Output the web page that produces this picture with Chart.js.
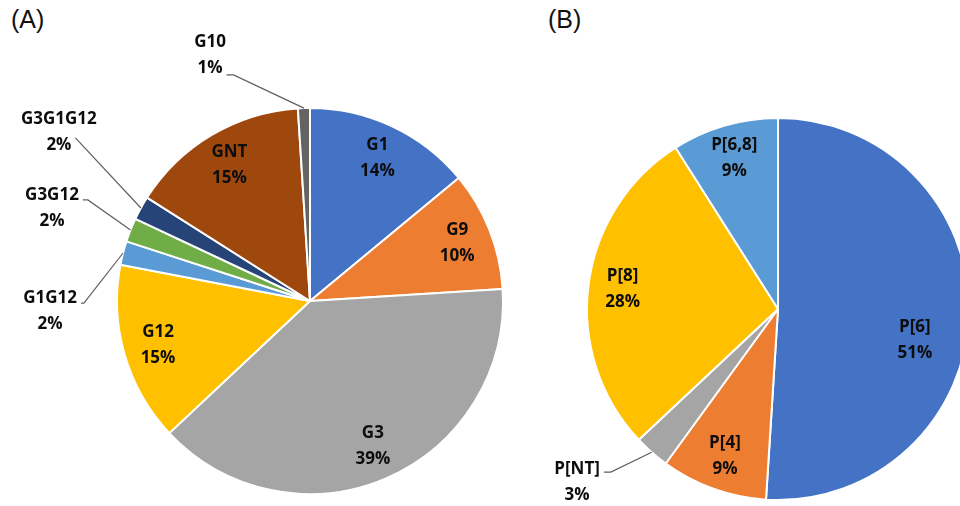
<!DOCTYPE html>
<html>
<head>
<meta charset="utf-8">
<script src="https://cdn.jsdelivr.net/npm/chart.js@4"></script>
<style>
  html, body { margin: 0; padding: 0; background: #fff; }
  body { width: 960px; height: 506px; overflow: hidden; position: relative; }
  canvas { position: absolute; top: 0; }
  .tag { position: absolute; top: 5px; font: 25px "Liberation Sans", Arial, sans-serif; color: #111; }
</style>
</head>
<body>
<div class="tag" style="left:11px">(A)</div>
<div class="tag" style="left:548px">(B)</div>
<canvas id="pieA" width="520" height="506" style="left:0;width:520px;height:506px"></canvas>
<canvas id="pieB" width="580" height="506" style="left:520px;width:580px;height:506px"></canvas>
<script>
// G genotypes (%)
const gLabels = ['G1', 'G9', 'G3', 'G12', 'G1G12', 'G3G12', 'G3G1G12', 'GNT', 'G10'];
const gValues = [14, 10, 39, 15, 2, 2, 2, 15, 1];
const gColors = ['#4472C4', '#ED7D31', '#A5A5A5', '#FFC000', '#5B9BD5', '#70AD47', '#264478', '#9E480E', '#636363'];

// P genotypes (%)
const pLabels = ['P[6]', 'P[4]', 'P[NT]', 'P[8]', 'P[6,8]'];
const pValues = [51, 9, 3, 28, 9];
const pColors = ['#4472C4', '#ED7D31', '#A5A5A5', '#FFC000', '#5B9BD5'];

const LINE = 26;
const LABEL_FONT = 'bold 17px "Open Sans", "DejaVu Sans", sans-serif';

// Draws "name / value%" labels: inside the slice, or outside with a leader line.
const sliceLabels = {
  id: 'sliceLabels',
  afterDatasetsDraw(chart, args, opts) {
    const ctx = chart.ctx;
    const meta = chart.getDatasetMeta(0);
    const values = chart.data.datasets[0].data;
    ctx.save();
    ctx.font = LABEL_FONT;
    ctx.fillStyle = '#0d0d0d';
    ctx.textAlign = 'center';
    ctx.textBaseline = 'middle';
    ctx.strokeStyle = '#5f5f5f';
    ctx.lineWidth = 1.2;
    meta.data.forEach((arc, i) => {
      const p = arc.getProps(['x', 'y', 'startAngle', 'endAngle', 'outerRadius'], true);
      const name = chart.data.labels[i];
      const lines = [name, values[i] + '%'];
      const mid = (p.startAngle + p.endAngle) / 2;
      const out = (opts.outside || {})[name];
      if (out) {
        const cx = p.x + out.dx * p.outerRadius;
        const cy = p.y + out.dy * p.outerRadius;
        lines.forEach((t, k) => ctx.fillText(t, cx, cy + (k - 0.5) * LINE));
        const w = ctx.measureText(lines[out.from]).width;
        let sx = cx + w / 2 + 4;
        const sy = cy + (out.from - 0.5) * LINE + out.fy;
        const ex = p.x + Math.cos(mid) * p.outerRadius;
        const ey = p.y + Math.sin(mid) * p.outerRadius;
        ctx.beginPath();
        ctx.moveTo(sx, sy);
        if (out.stub) { sx += out.stub; ctx.lineTo(sx, sy); }
        ctx.lineTo(ex, ey);
        ctx.stroke();
      } else {
        const t = (opts.inside || {})[name] || {};
        const r = (t.r ?? 0.82) * p.outerRadius;
        const a = mid + (t.da || 0) * Math.PI / 180;
        const cx = p.x + Math.cos(a) * r;
        const cy = p.y + Math.sin(a) * r;
        lines.forEach((s, k) => ctx.fillText(s, cx, cy + (k - 0.5) * LINE));
      }
    });
    ctx.restore();
  }
};

function makePie(id, labels, values, colors, padding, labelOpts) {
  return new Chart(document.getElementById(id), {
    type: 'pie',
    data: {
      labels: labels,
      datasets: [{
        data: values,
        backgroundColor: colors,
        borderColor: '#ffffff',
        borderWidth: 2,
        hoverOffset: 0
      }]
    },
    options: {
      responsive: false,
      animation: false,
      events: [],
      layout: { padding: padding },
      plugins: {
        legend: { display: false },
        tooltip: { enabled: false },
        sliceLabels: labelOpts
      }
    },
    plugins: [sliceLabels]
  });
}

makePie('pieA', gLabels, gValues, gColors,
  { left: 116, top: 107, right: 16, bottom: 11 },
  {
    outside: {
      'G10':     { dx: -0.518, dy: -1.275, from: 1, fy: 7,  stub: 7 },
      'G3G1G12': { dx: -1.301, dy: -0.876, from: 1, fy: -7, stub: 0 },
      'G3G12':   { dx: -1.337, dy: -0.482, from: 0, fy: 5,  stub: 5 },
      'G1G12':   { dx: -1.347, dy: 0.052,  from: 0, fy: 5,  stub: 3 }
    }
  });

makePie('pieB', pLabels, pValues, pColors,
  { left: 66, top: 117, right: 130, bottom: 5 },
  {
    outside: {
      'P[NT]': { dx: -1.052, dy: 0.906, from: 0, fy: 3, stub: 7 }
    },
    inside: {
      'P[6]': { r: 0.735, da: 11 }
    }
  });
</script>
</body>
</html>
